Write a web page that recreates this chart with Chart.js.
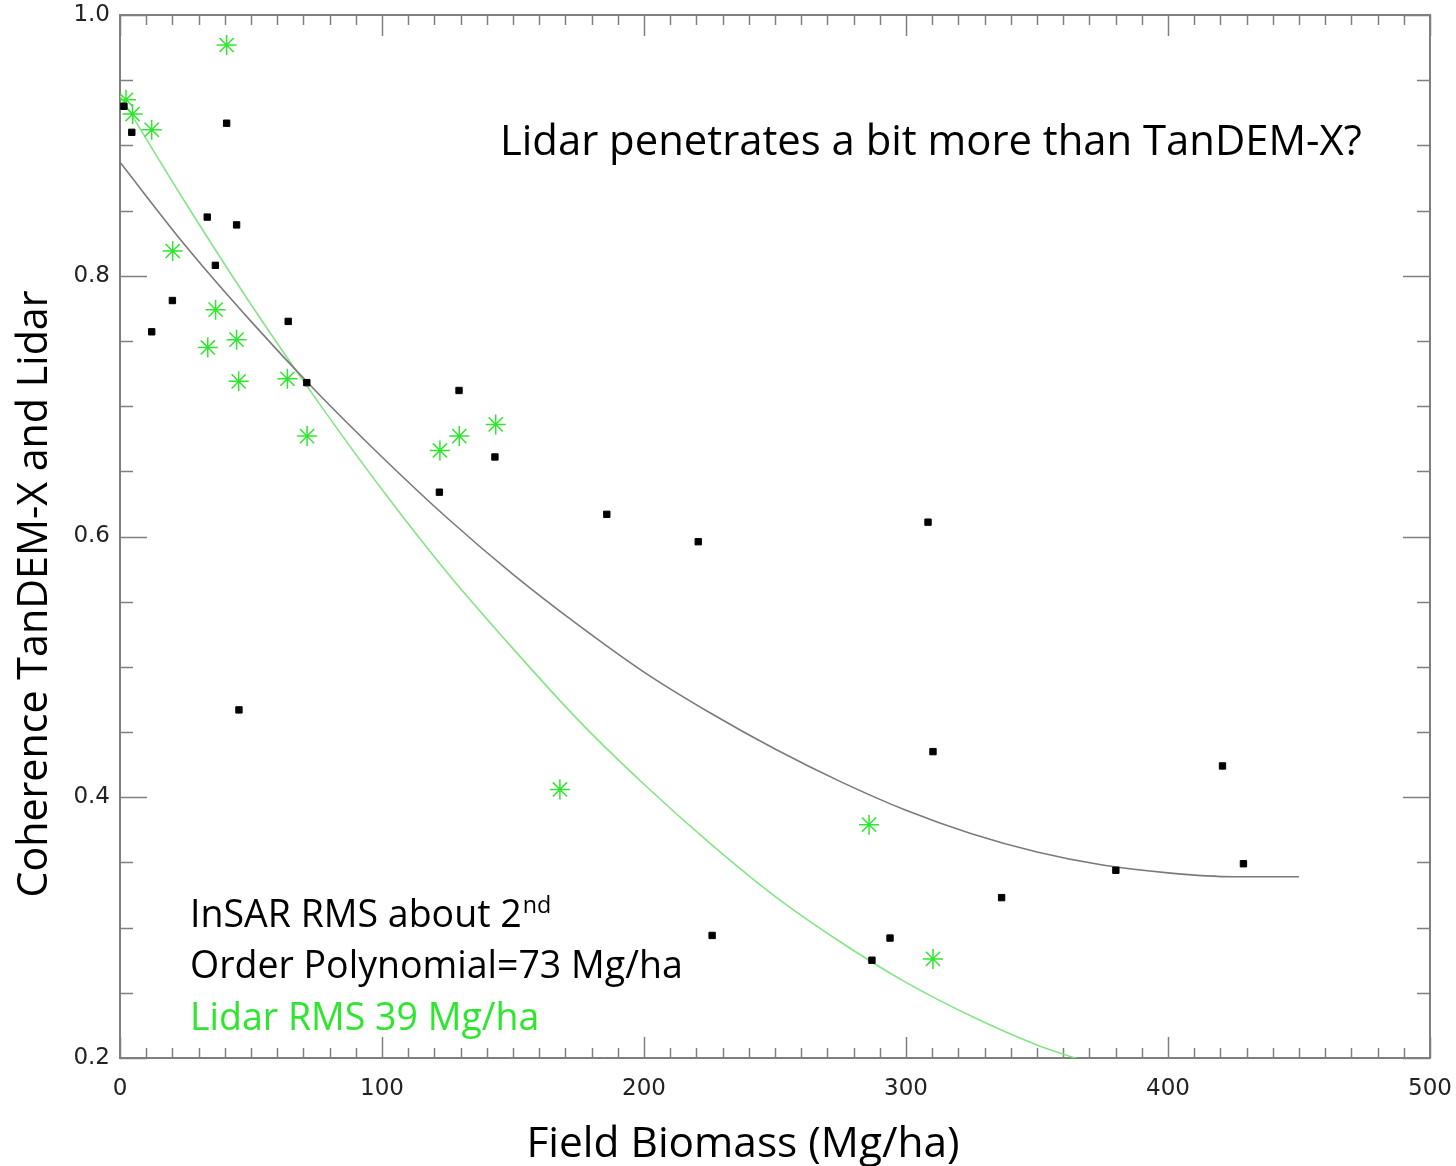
<!DOCTYPE html>
<html>
<head>
  <meta charset="UTF-8">
  <title>Coherence vs Field Biomass</title>
  <script src="https://cdn.jsdelivr.net/npm/chart.js"></script>
  <style>
    body { margin: 0; background: #fff; }
    #wrap { width: 1456px; height: 1166px; }
  </style>
</head>
<body>
  <div id="wrap"><canvas id="chart" width="1456" height="1166"></canvas></div>

  <script>
    // InSAR (TanDEM-X) coherence points, black
    const insarX = [1.5, 4.5, 40.7, 33.3, 44.5, 36.4, 20, 12.1, 64.2, 71.3, 45.4, 129.4, 143.1, 121.9,
                    185.8, 220.7, 226, 287.0, 293.9, 308.4, 310.3, 336.5, 380.1, 420.8, 428.8];
    const insarY = [0.930, 0.910, 0.917, 0.845, 0.839, 0.808, 0.781, 0.757, 0.765, 0.718, 0.467, 0.712, 0.661, 0.634,
                    0.617, 0.596, 0.294, 0.275, 0.292, 0.611, 0.435, 0.323, 0.344, 0.424, 0.349];

    // Lidar points, green asterisks
    const lidarX = [2.3, 4.8, 12.1, 40.7, 20.1, 36.5, 33.5, 44.5, 45.3, 63.9, 71.4, 122.1, 129.5, 143.4,
                    167.9, 149, 185, 285.9, 310.3];
    const lidarY = [0.935, 0.924, 0.912, 0.977, 0.819, 0.774, 0.745, 0.751, 0.719, 0.721, 0.677, 0.666, 0.677, 0.686,
                    0.406, 0.193, 0.193, 0.379, 0.276];

    // 2nd order fit curves
    const insarFitX = [0, 25, 50, 75, 100, 125, 150, 175, 200, 225, 250, 275, 300, 325, 350, 375, 400, 425, 450];
    const insarFitY = [0.887, 0.823, 0.765, 0.711, 0.661, 0.614, 0.571, 0.532, 0.496, 0.465, 0.437, 0.412, 0.390,
                       0.372, 0.358, 0.348, 0.342, 0.339, 0.339];
    const lidarFitX = [0, 25, 50, 75, 100, 125, 150, 175, 200, 225, 250, 275, 300, 325, 350, 366];
    const lidarFitY = [0.938, 0.856, 0.778, 0.705, 0.636, 0.572, 0.514, 0.459, 0.410, 0.365, 0.324, 0.289, 0.258,
                       0.232, 0.210, 0.199];

    const xTickStep = 100, xMinorStep = 10;
    const yTickStep = 0.2, yMinorStep = 0.05;

    const xTitle = 'Field Biomass (Mg/ha)';
    const yTitle = 'Coherence TanDEM-X and Lidar';

    const textFont = '"Open Sans", sans-serif';
    const tickFont = { family: '"DejaVu Sans", sans-serif', size: 23 };
    const green = '#2fe62f';

    const pts = (xs, ys) => xs.map((x, i) => ({ x: x, y: ys[i] }));

    // font size that makes a string a given width
    const mctx = document.createElement('canvas').getContext('2d');
    function fitSize(text, width) {
      mctx.font = '100px ' + textFont;
      return 100 * width / mctx.measureText(text).width;
    }

    // box round the plot with IDL style inward ticks
    const frame = {
      id: 'frame',
      beforeDatasetsDraw(chart) {
        const { ctx, chartArea: a, scales: { x, y } } = chart;
        ctx.save();
        ctx.strokeStyle = '#7f7f7f';
        ctx.lineWidth = 1.5;
        for (let v = x.min; v <= x.max + 1e-9; v += xMinorStep) {
          const px = Math.round(x.getPixelForValue(v)) + 0.5;
          const len = Math.abs(v % xTickStep) < 1e-6 ? 21 : 10;
          ctx.beginPath();
          ctx.moveTo(px, a.bottom); ctx.lineTo(px, a.bottom - len);
          ctx.moveTo(px, a.top); ctx.lineTo(px, a.top + len);
          ctx.stroke();
        }
        for (let v = y.min; v <= y.max + 1e-9; v += yMinorStep) {
          const py = Math.round(y.getPixelForValue(v)) + 0.5;
          const r = (v - y.min) / yTickStep;
          const len = Math.abs(r - Math.round(r)) < 1e-6 ? 27 : 13;
          ctx.beginPath();
          ctx.moveTo(a.left, py); ctx.lineTo(a.left + len, py);
          ctx.moveTo(a.right, py); ctx.lineTo(a.right - len, py);
          ctx.stroke();
        }
        ctx.lineWidth = 2;
        ctx.strokeRect(a.left, a.top, a.right - a.left, a.bottom - a.top);
        ctx.restore();
      }
    };

    // axis titles and text notes
    const notes = {
      id: 'notes',
      afterDraw(chart) {
        const ctx = chart.ctx;
        ctx.save();
        ctx.textBaseline = 'alphabetic';
        ctx.fillStyle = '#000';

        ctx.textAlign = 'center';
        ctx.font = fitSize(xTitle, 433).toFixed(1) + 'px ' + textFont;
        ctx.fillText(xTitle, 743, 1157);
        ctx.save();
        ctx.translate(47, 594);
        ctx.rotate(-Math.PI / 2);
        ctx.font = fitSize(yTitle, 608).toFixed(1) + 'px ' + textFont;
        ctx.fillText(yTitle, 0, 0);
        ctx.restore();

        ctx.textAlign = 'left';
        const q = 'Lidar penetrates a bit more than TanDEM-X?';
        ctx.font = fitSize(q, 862).toFixed(1) + 'px ' + textFont;
        ctx.fillText(q, 500, 155);

        const l1 = 'InSAR RMS about 2';
        const s = fitSize('Order Polynomial=73 Mg/ha', 493);
        ctx.font = s.toFixed(1) + 'px ' + textFont;
        ctx.fillText(l1, 190, 927);
        const w1 = ctx.measureText(l1).width;
        ctx.font = (s * 0.62).toFixed(1) + 'px ' + textFont;
        ctx.fillText('nd', 190 + w1 + 1, 913);

        ctx.font = s.toFixed(1) + 'px ' + textFont;
        ctx.fillText('Order Polynomial=73 Mg/ha', 190, 978);
        ctx.fillStyle = green;
        ctx.fillText('Lidar RMS 39 Mg/ha', 190, 1030);
        ctx.restore();
      }
    };

    new Chart(document.getElementById('chart'), {
      type: 'scatter',
      data: {
        datasets: [
          {
            label: 'InSAR points',
            data: pts(insarX, insarY),
            pointStyle: 'rect',
            pointRadius: 4.5,
            backgroundColor: '#000',
            borderColor: '#000',
            borderWidth: 1
          },
          {
            label: 'Lidar points',
            data: pts(lidarX, lidarY),
            pointStyle: 'star',
            pointRadius: 10,
            backgroundColor: green,
            borderColor: green,
            borderWidth: 1.5
          },
          {
            label: 'InSAR fit',
            data: pts(insarFitX, insarFitY),
            showLine: true,
            pointRadius: 0,
            borderColor: '#7a7a7a',
            borderWidth: 1.6,
            cubicInterpolationMode: 'monotone'
          },
          {
            label: 'Lidar fit',
            data: pts(lidarFitX, lidarFitY),
            showLine: true,
            pointRadius: 0,
            borderColor: '#84e584',
            borderWidth: 1.6,
            cubicInterpolationMode: 'monotone'
          }
        ]
      },
      options: {
        responsive: false,
        animation: false,
        layout: { padding: { top: 15, right: 26, left: 0, bottom: 0 } },
        plugins: { legend: { display: false }, tooltip: { enabled: false } },
        scales: {
          x: {
            type: 'linear',
            min: 0,
            max: 500,
            grid: { display: false, drawTicks: false, tickLength: 0 },
            border: { display: false },
            ticks: { stepSize: xTickStep, padding: 17, color: '#222', font: tickFont },
            afterFit: s => { s.height = 108; s.paddingLeft = 0; s.paddingRight = 0; }
          },
          y: {
            min: 0.2,
            max: 1.0,
            grid: { display: false, drawTicks: false, tickLength: 0 },
            border: { display: false },
            ticks: {
              stepSize: yTickStep,
              padding: 10,
              color: '#222',
              font: tickFont,
              callback: v => v.toFixed(1)
            },
            afterFit: s => { s.width = 120; s.paddingTop = 0; s.paddingBottom = 0; }
          }
        }
      },
      plugins: [frame, notes]
    });
  </script>
</body>
</html>
